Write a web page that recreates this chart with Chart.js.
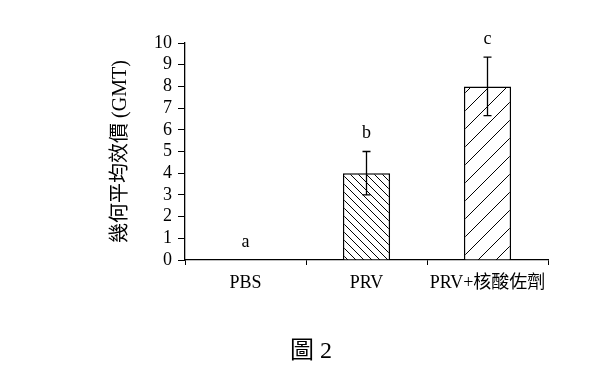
<!DOCTYPE html>
<html>
<head>
<meta charset="utf-8">
<script src="https://cdn.jsdelivr.net/npm/chart.js@4"></script>
<style>
  body { margin: 0; background: #fff; }
  #wrap { width: 600px; height: 382px; }
</style>
</head>
<body>
<div id="wrap"><canvas id="gmtChart" width="600" height="382"></canvas></div>
<script>
// data
var categories = ['PBS', 'PRV', 'PRV+核酸佐劑'];
var gmtValues = [0, 4, 8];
var gmtErrors = [0, 1, 1.35];
var sigLetters = ['a', 'b', 'c'];
var yMin = 0, yMax = 10, yStep = 1;
var yTitle = '幾何平均效價 (GMT)';
var caption = '圖 2';

var serif = "'Liberation Serif', 'DejaVu Serif', 'Noto Sans CJK TC', serif";

// hatch tiles
function hatch(size, dir) {
    var c = document.createElement('canvas');
    c.width = size; c.height = size;
    var g = c.getContext('2d');
    g.fillStyle = '#fff';
    g.fillRect(0, 0, size, size);
    g.strokeStyle = '#000';
    g.lineWidth = 1;
    g.beginPath();
    if (dir == 'back') {
        g.moveTo(-1, -1); g.lineTo(size + 1, size + 1);
        g.moveTo(-1, size - 1); g.lineTo(1, size + 1);
        g.moveTo(size - 1, -1); g.lineTo(size + 1, 1);
    } else {
        g.moveTo(-1, size + 1); g.lineTo(size + 1, -1);
        g.moveTo(-1, 1); g.lineTo(1, -1);
        g.moveTo(size - 1, size + 1); g.lineTo(size + 1, size - 1);
    }
    g.stroke();
    return g.createPattern(c, 'repeat');
}

var fills = ['#fff', hatch(8, 'back'), hatch(18, 'fwd')];

var extras = {
    id: 'extras',
    afterDatasetsDraw: function (chart) {
        var ctx = chart.ctx;
        var y = chart.scales.y;
        var meta = chart.getDatasetMeta(0);
        ctx.save();
        ctx.strokeStyle = '#000';
        ctx.lineWidth = 1.3;
        ctx.fillStyle = '#000';
        ctx.font = '18px ' + serif;
        ctx.textAlign = 'center';
        ctx.textBaseline = 'middle';
        meta.data.forEach(function (bar, i) {
            var v = gmtValues[i], e = gmtErrors[i];
            var top = y.getPixelForValue(v + e);
            if (e > 0) {
                var bot = y.getPixelForValue(v - e);
                ctx.beginPath();
                ctx.moveTo(bar.x, top); ctx.lineTo(bar.x, bot);
                ctx.moveTo(bar.x - 4, top); ctx.lineTo(bar.x + 4, top);
                ctx.moveTo(bar.x - 4, bot); ctx.lineTo(bar.x + 4, bot);
                ctx.stroke();
            }
            ctx.fillText(sigLetters[i], bar.x, top - 18);
        });
        ctx.font = "24px 'Liberation Serif', 'Noto Sans CJK TC', serif";
        ctx.fillText(caption, 311, 352);
        ctx.restore();
    }
};

new Chart(document.getElementById('gmtChart'), {
    type: 'bar',
    data: {
        labels: categories,
        datasets: [{
            data: gmtValues,
            backgroundColor: fills,
            borderColor: '#000',
            borderWidth: 1.5,
            barPercentage: 0.39,
            categoryPercentage: 1.0
        }]
    },
    options: {
        responsive: false,
        animation: false,
        layout: { padding: { left: 105, right: 52, top: 43, bottom: 0 } },
        plugins: { legend: { display: false }, tooltip: { enabled: false } },
        scales: {
            x: {
                afterFit: function (s) { s.height = 122; },
                grid: { offset: true, drawOnChartArea: false, tickLength: 5, color: '#000' },
                border: { color: '#000', width: 1.3 },
                ticks: { color: '#000', font: { family: serif, size: 18 }, padding: 7, maxRotation: 0 }
            },
            y: {
                min: yMin, max: yMax,
                afterFit: function (s) { s.width = 80; },
                grid: { drawOnChartArea: false, tickLength: 7, color: '#000' },
                border: { color: '#000', width: 1.3 },
                ticks: { stepSize: yStep, autoSkip: false, color: '#000', font: { family: serif, size: 18 }, padding: 6 },
                title: { display: true, text: yTitle, color: '#000', font: { family: serif, size: 20 } }
            }
        }
    },
    plugins: [extras]
});
</script>
</body>
</html>
